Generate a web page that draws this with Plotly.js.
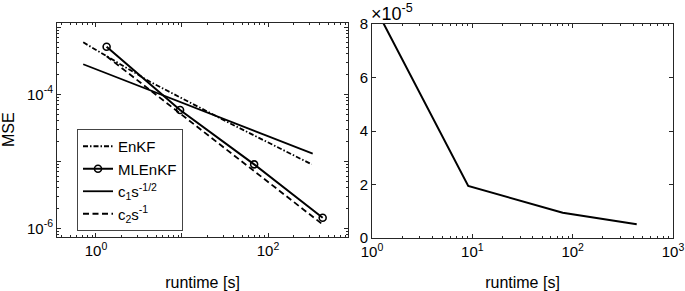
<!DOCTYPE html>
<html>
<head>
<meta charset="utf-8">
<script src="https://cdn.plot.ly/plotly-3.0.1.min.js"></script>
<style>html,body{margin:0;padding:0;background:#fff;}#chart{width:685px;height:291px;}</style>
</head>
<body>
<div id="chart"></div>
<script>
// ---- data ----
const enkfRuntime   = [0.711, 4.25, 36.2, 322];
const enkfMSE       = [5.97e-4, 1.54e-4, 3.69e-5, 9.0e-6];
const mlenkfRuntime = [1.33, 9.5, 69, 432];
const mlenkfMSE     = [5.13e-4, 5.83e-5, 9.0e-6, 1.44e-6];
const c1Runtime     = [0.711, 331];
const c1MSE         = [2.81e-4, 1.30e-5];
const c2Runtime     = [1.33, 440];
const c2MSE         = [3.70e-4, 1.12e-6];
const rightRuntime  = [1.29, 9.1, 79.6, 435];
const rightMSE      = [8.05e-5, 1.944e-5, 0.946e-5, 0.512e-5];

const legendNames = ['EnKF', 'MLEnKF', 'c<sub>1</sub>s<sup>-1/2</sup>', 'c<sub>2</sub>s<sup>-1</sup>'];

const leftXTickVals = [1, 10, 100];
const leftXTickText = ['10<sup>0</sup>', '', '10<sup>2</sup>'];
const leftYTickVals = [1e-6, 1e-5, 1e-4, 1e-3];
const leftYTickText = ['10<sup>-6</sup>', '', '10<sup>-4</sup>', ''];
const rightXTickVals = [1, 10, 100, 1000];
const rightXTickText = ['10<sup>0</sup>', '10<sup>1</sup>', '10<sup>2</sup>', '10<sup>3</sup>'];
const rightYTickVals = [0, 2e-5, 4e-5, 6e-5, 8e-5];
const rightYTickText = ['0', '2', '4', '6', '8'];

function decadeMinors(lo, hi) {
  const out = [];
  for (let e = lo; e <= hi; e++) for (let m = 2; m <= 9; m++) out.push(m * Math.pow(10, e));
  return out;
}

const ink = '#262626';
const fontFam = 'Liberation Sans, Arial, Helvetica, sans-serif';

const traces = [
  {x: enkfRuntime, y: enkfMSE, name: legendNames[0], mode: 'lines',
   line: {color: '#000', width: 1.8, dash: '5px,2px,1.5px,2px'}, xaxis: 'x', yaxis: 'y'},
  {x: mlenkfRuntime, y: mlenkfMSE, name: legendNames[1], mode: 'lines+markers',
   line: {color: '#000', width: 2}, marker: {symbol: 'circle-open', size: 7, color: '#000', line: {width: 1.6}},
   xaxis: 'x', yaxis: 'y'},
  {x: c1Runtime, y: c1MSE, name: legendNames[2], mode: 'lines',
   line: {color: '#000', width: 1.8}, xaxis: 'x', yaxis: 'y'},
  {x: c2Runtime, y: c2MSE, name: legendNames[3], mode: 'lines',
   line: {color: '#000', width: 1.8, dash: '6px,3.5px'}, xaxis: 'x', yaxis: 'y'},
  {x: rightRuntime, y: rightMSE, mode: 'lines', showlegend: false,
   line: {color: '#000', width: 2}, xaxis: 'x2', yaxis: 'y2'}
];

const axBase = {
  showline: true, linecolor: ink, linewidth: 1, mirror: 'allticks',
  ticks: 'inside', ticklen: 4, tickwidth: 1, tickcolor: ink,
  showgrid: false, zeroline: false, tickmode: 'array',
  tickfont: {family: fontFam, size: 15, color: '#000'}
};
const titleFont = {family: fontFam, size: 16, color: '#000'};

const layout = {
  width: 685, height: 291,
  margin: {l: 0, r: 0, t: 0, b: 0},
  paper_bgcolor: '#fff', plot_bgcolor: '#fff',
  font: {family: fontFam, size: 15, color: '#000'},
  showlegend: true,
  legend: {x: 77/685, y: 1 - 129/291, xanchor: 'left', yanchor: 'top',
           bgcolor: '#fff', bordercolor: '#444', borderwidth: 1,
           font: {family: fontFam, size: 15, color: '#000'}},
  xaxis: Object.assign({}, axBase, {
    type: 'log', domain: [57/685, 348/685], range: [-0.453, 2.93], anchor: 'y',
    tickvals: leftXTickVals, ticktext: leftXTickText,
    minor: {tickvals: decadeMinors(-1, 2), ticks: 'inside', ticklen: 2, tickcolor: ink, tickwidth: 1},
    title: {text: 'runtime [s]', standoff: 20, font: titleFont}
  }),
  yaxis: Object.assign({}, axBase, {
    type: 'log', domain: [1 - 237/291, 1 - 22.5/291], range: [-6.13, -2.928], anchor: 'x',
    tickvals: leftYTickVals, ticktext: leftYTickText,
    minor: {tickvals: decadeMinors(-7, -3), ticks: 'inside', ticklen: 2, tickcolor: ink, tickwidth: 1},
    title: {text: 'MSE', standoff: 9, font: titleFont}
  }),
  xaxis2: Object.assign({}, axBase, {
    type: 'log', domain: [372/685, 673/685], range: [0, 3], anchor: 'y2',
    tickvals: rightXTickVals, ticktext: rightXTickText,
    minor: {tickvals: decadeMinors(0, 2), ticks: 'inside', ticklen: 2, tickcolor: ink, tickwidth: 1},
    title: {text: 'runtime [s]', standoff: 20, font: titleFont}
  }),
  yaxis2: Object.assign({}, axBase, {
    domain: [1 - 238/291, 1 - 24/291], range: [0, 8e-5], anchor: 'x2',
    tickvals: rightYTickVals, ticktext: rightYTickText
  }),
  annotations: [{
    xref: 'paper', yref: 'paper', x: 370/685, y: 1, xanchor: 'left', yanchor: 'top',
    borderpad: 0, text: '×10<sup>-5</sup>', showarrow: false,
    font: {family: fontFam, size: 18, color: '#000'}
  }]
};

Plotly.newPlot('chart', traces, layout, {staticPlot: true, displayModeBar: false});
</script>
</body>
</html>
